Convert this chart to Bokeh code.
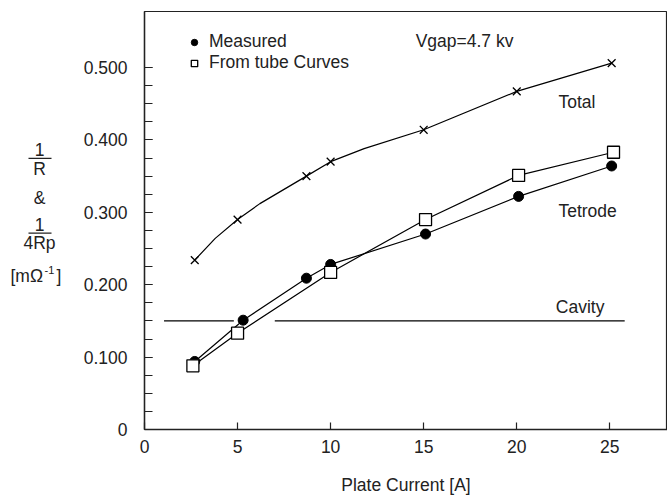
from bokeh.plotting import figure
from bokeh.layouts import row
from bokeh.models import Range1d, FixedTicker, Label, Legend, LegendItem
from bokeh.core.properties import value
from bokeh.embed import file_html
from bokeh.resources import INLINE

FONT = "Liberation Sans"
FS = "17.5px"
INK = "#222222"

# ---- data ----
measured_x = [2.7, 5.3, 8.7, 10.0, 15.1, 20.1, 25.1]
measured_y = [0.094, 0.151, 0.209, 0.228, 0.270, 0.322, 0.364]

tube_x = [2.6, 5.0, 10.0, 15.1, 20.1, 25.2]
tube_y = [0.088, 0.133, 0.217, 0.290, 0.351, 0.383]

total_x = [2.7, 5.0, 8.7, 10.0, 15.0, 20.0, 25.1]
total_y = [0.234, 0.290, 0.350, 0.370, 0.414, 0.467, 0.506]

# vertices of the drawn "Total" curve
total_curve_x = [2.7, 3.8, 5.0, 6.2, 8.7, 10.0, 11.8, 15.0, 20.0, 25.1]
total_curve_y = [0.234, 0.264, 0.290, 0.312, 0.350, 0.370, 0.388, 0.414, 0.467, 0.506]

cavity_value = 0.150
cavity_x0 = [1.05, 7.0]
cavity_x1 = [4.8, 25.8]

x_ticks = [0, 5, 10, 15, 20, 25]
y_ticks = [0, 0.1, 0.2, 0.3, 0.4, 0.5]
y_tick_labels = ["0", "0.100", "0.200", "0.300", "0.400", "0.500"]

# ---------- left strip holding the stacked y-axis caption ----------
LW = 80
q = figure(width=LW, height=498, output_backend="svg", toolbar_location=None,
           x_range=Range1d(0, LW), y_range=Range1d(498, 0),
           x_axis_type=None, y_axis_type=None,
           min_border_left=0, min_border_right=0, min_border_top=0,
           min_border_bottom=0)
q.grid.visible = False
q.outline_line_color = None
q.background_fill_color = "white"
q.border_fill_color = "white"

cap_x = [39, 39, 39, 39, 39]
cap_y = [164, 188, 222, 254, 276]
cap_t = ["1", "R", "&", "1", "4Rp"]
q.text(x=cap_x, y=cap_y, text=cap_t, text_font=value(FONT), text_font_size=FS,
       text_color=INK, text_align="center", text_baseline="middle")
q.segment(x0=[28, 28], y0=[175, 264], x1=[51, 51], y1=[175, 264],
          line_color=INK, line_width=1.2)
q.text(x=[10, 56], y=[315, 315], text=["[mΩ", "]"], text_font=value(FONT),
       text_font_size=FS, text_color=INK, text_align="left", text_baseline="middle")
q.text(x=[44], y=[308], text=["-1"], text_font=value(FONT),
       text_font_size="11px", text_color=INK, text_align="left", text_baseline="middle")

# ---------- main chart ----------
p = figure(width=667 - LW, height=498, output_backend="svg", toolbar_location=None,
           x_range=Range1d(0, 28.1), y_range=Range1d(0, 0.5774),
           min_border_left=60, min_border_right=0, min_border_top=11,
           min_border_bottom=69)
p.grid.visible = False
p.outline_line_color = INK
p.outline_line_width = 1.2
p.background_fill_color = "white"
p.border_fill_color = "white"

for ax in (p.xaxis[0], p.yaxis[0]):
    ax.axis_line_color = INK
    ax.axis_line_width = 1.4
    ax.major_tick_line_color = INK
    ax.minor_tick_line_color = INK
    ax.major_tick_line_width = 1.2
    ax.minor_tick_line_width = 1.2
    ax.major_tick_out = 0
    ax.minor_tick_out = 0
    ax.major_label_text_font = FONT
    ax.major_label_text_font_size = FS
    ax.major_label_text_color = INK

p.xaxis.ticker = FixedTicker(ticks=x_ticks, minor_ticks=[])
p.xaxis.major_tick_in = 7
p.xaxis.major_label_standoff = 10
p.xaxis.axis_label = "Plate Current [A]"
p.xaxis.axis_label_text_font = FONT
p.xaxis.axis_label_text_font_size = FS
p.xaxis.axis_label_text_font_style = "normal"
p.xaxis.axis_label_text_color = INK
p.xaxis.axis_label_standoff = 19

p.yaxis.ticker = FixedTicker(ticks=y_ticks, minor_ticks=[i * 0.025 for i in range(21)])
p.yaxis.major_tick_in = 8
p.yaxis.minor_tick_in = 8
p.yaxis.major_label_standoff = 17
p.yaxis.major_label_overrides = {t: s for t, s in zip(y_ticks, y_tick_labels)}

# lines
p.segment(x0=cavity_x0, y0=[cavity_value] * 2, x1=cavity_x1, y1=[cavity_value] * 2,
          line_color="black", line_width=1.2)
p.line(total_curve_x, total_curve_y, line_color="black", line_width=1.2)
p.line(measured_x, measured_y, line_color="black", line_width=1.2)
p.line(tube_x, tube_y, line_color="black", line_width=1.2)

# markers
p.scatter(total_x, total_y, marker="x", size=11, line_color="black", line_width=1.3)
r_meas = p.scatter(measured_x, measured_y, marker="circle", size=10,
                   fill_color="black", line_color="black")
r_tube = p.scatter(tube_x, tube_y, marker="square", size=12,
                   fill_color="white", line_color="black", line_width=1.3)

legend = Legend(items=[LegendItem(label="Measured", renderers=[r_meas]),
                       LegendItem(label="From tube Curves", renderers=[r_tube])],
                location=(42, 356), padding=0, margin=0, spacing=0,
                glyph_width=16, glyph_height=20, label_height=20,
                label_standoff=7, border_line_alpha=0, background_fill_alpha=0,
                label_text_font=FONT, label_text_font_size=FS,
                label_text_color=INK)
p.add_layout(legend, "center")

def lab(x, y, t):
    p.add_layout(Label(x=x, y=y, text=t, text_font=FONT, text_font_size=FS,
                       text_color=INK, text_align="left", text_baseline="middle"))

lab(14.57, 0.536, "Vgap=4.7 kv")
lab(22.24, 0.452, "Total")
lab(22.24, 0.302, "Tetrode")
lab(22.1, 0.169, "Cavity")

open("out.html", "w").write(file_html(row(q, p), INLINE))
